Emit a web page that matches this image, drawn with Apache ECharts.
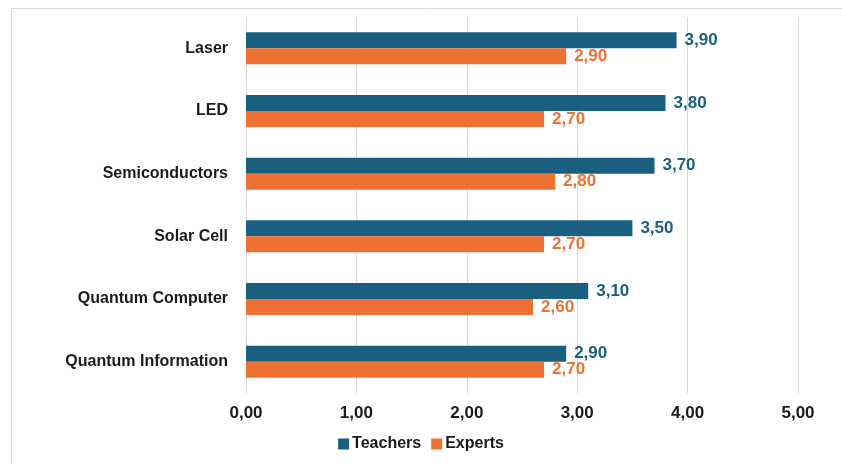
<!DOCTYPE html>
<html><head><meta charset="utf-8">
<script src="https://cdn.jsdelivr.net/npm/echarts@6/dist/echarts.min.js"></script>
<style>html,body{margin:0;padding:0;background:#fff}#c{width:842px;height:464px}</style>
</head><body><div id="c"></div>
<script>
var categories = ["Laser", "LED", "Semiconductors", "Solar Cell", "Quantum Computer", "Quantum Information"];
var teachers = [3.9, 3.8, 3.7, 3.5, 3.1, 2.9];
var experts = [2.9, 2.7, 2.8, 2.7, 2.6, 2.7];
var xTicks = [0, 1, 2, 3, 4, 5];

var FONT = "Liberation Sans";
var TCOL = "#1a5f80", ECOL = "#ec7133";
function fmt(v){ return v.toFixed(2).replace('.', ','); }

var chart = echarts.init(document.getElementById('c'), null, {renderer:'canvas'});
chart.setOption({
  animation: false,
  textStyle: {fontFamily: FONT},
  graphic: [{type:'rect', left: 9, top: 6, shape:{width: 840, height: 456}, style:{fill:'none', stroke:'#d9d9d9', lineWidth:1}, silent:true}],
  grid: {left: 246, right: 44, top: 17, bottom: 71, containLabel: false},
  legend: {
    bottom: 7, left: 'center', itemWidth: 11, itemHeight: 11, itemGap: 10,
    icon: 'rect',
    textStyle: {fontFamily: FONT, fontWeight: 'bold', fontSize: 16, color: '#1a1a1a', padding:[0,0,0,-2]},
    data: ['Teachers', 'Experts']
  },
  xAxis: {
    type: 'value', min: xTicks[0], max: xTicks[xTicks.length-1], interval: 1,
    axisLine: {show: false}, axisTick: {show: false},
    splitLine: {lineStyle: {color: '#d9d9d9', width: 1}},
    axisLabel: {formatter: fmt, fontFamily: FONT, fontWeight: 'bold', fontSize: 17, color: '#1a1a1a', margin: 12}
  },
  yAxis: {
    type: 'category', inverse: true, data: categories,
    axisLine: {show: false}, axisTick: {show: false},
    axisLabel: {fontFamily: FONT, fontWeight: 'bold', fontSize: 16, color: '#1a1a1a', margin: 18}
  },
  series: [
    {name: 'Teachers', type: 'bar', data: teachers, barGap: '0%', barCategoryGap: '49%',
     itemStyle: {color: TCOL},
     label: {show: true, position: 'right', distance: 8, formatter: function(p){return fmt(p.value);}, color: TCOL, fontFamily: FONT, fontWeight: 'bold', fontSize: 17}},
    {name: 'Experts', type: 'bar', data: experts, barGap: '0%', barCategoryGap: '49%',
     itemStyle: {color: ECOL},
     label: {show: true, position: 'right', distance: 8, formatter: function(p){return fmt(p.value);}, color: ECOL, fontFamily: FONT, fontWeight: 'bold', fontSize: 17}}
  ]
});
</script></body></html>
